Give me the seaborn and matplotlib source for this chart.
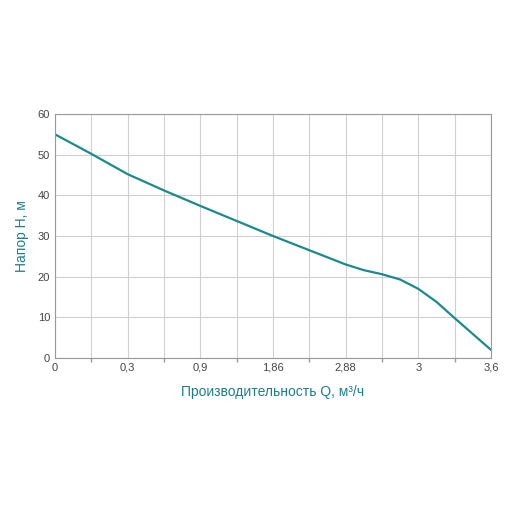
import matplotlib
matplotlib.use("Agg")
import matplotlib.pyplot as plt
import seaborn as sns
import pandas as pd

pos = [0, 1, 2, 3, 4, 5, 6, 7, 8, 8.5, 9, 9.5, 10, 10.5, 11, 11.5, 12]
head = [55, 50.2, 45.2, 41.2, 37.4, 33.7, 30.0, 26.5, 23.0, 21.6, 20.6, 19.3, 17.0, 13.8, 9.8, 5.9, 2.0]
tick_labels = ["0", "0,3", "0,9", "1,86", "2,88", "3", "3,6"]

sns.set_theme(style="white")
plt.rcParams['font.family'] = ['Liberation Sans', 'DejaVu Sans']
fig = plt.figure(figsize=(5.12, 5.12), dpi=100)
ax = fig.add_axes([55/512, 1-358/512, 436/512, 244/512])
df = pd.DataFrame({"x": pos, "y": head})
sns.lineplot(data=df, x="x", y="y", ax=ax, color="#1b8a8c", linewidth=1.6)
ax.set_xlim(0, 12)
ax.set_ylim(0, 60)
ax.set_xticks(range(13), minor=True)
ax.set_xticks(range(0, 13, 2))
ax.set_xticklabels(tick_labels)
ax.set_yticks(range(0, 61, 10))
ax.grid(True, which="both", axis="x", color="#d0d0d0", linewidth=0.8)
ax.grid(True, which="major", axis="y", color="#d0d0d0", linewidth=0.8)
ax.tick_params(labelsize=8, colors="#444444", length=0)
ax.tick_params(axis="x", which="minor", length=3, color="#999999", bottom=True)
for s in ax.spines.values():
    s.set_color("#999999"); s.set_linewidth(0.8)
ax.set_xlabel("Производительность Q, м³/ч", color="#1b7f8a", fontsize=10, labelpad=9)
ax.set_ylabel("Напор H, м", color="#1b7f8a", fontsize=10, labelpad=6)
fig.savefig("out.png", dpi=100)
